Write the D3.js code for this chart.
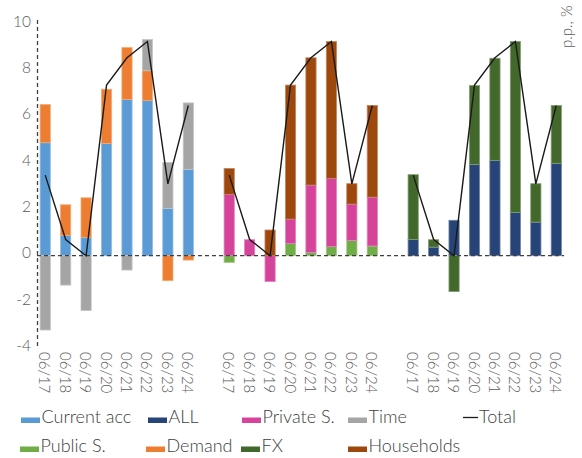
<!DOCTYPE html>
<html>
<head>
<meta charset="utf-8">
<script src="https://cdn.jsdelivr.net/npm/d3@7"></script>
<style>
  html, body { margin: 0; padding: 0; background: #fff; }
  svg { display: block; font-family: Lato, "Open Sans", sans-serif; font-weight: 300; }
</style>
</head>
<body>
<svg id="chart" width="582" height="458"></svg>
<script>
// Periods shown under each of the three decomposition panels
const periods = ["06/17", "06/18", "06/19", "06/20", "06/21", "06/22", "06/23", "06/24"];

// Panel 1: current account / demand / time
const currentAcc = [4.88, 0.88, 0.79, 4.85, 6.75, 6.70, 2.04, 3.73];
const demand     = [1.65, 1.32, 1.71, 2.34, 2.24, 1.29, -1.08, -0.19];
const time       = [-3.21, -1.27, -2.37, 0.00, -0.62, 1.35, 1.99, 2.87];

// Panel 2: public sector / private sector / households
const publicS    = [-0.29, 0.00, 0.00, 0.53, 0.14, 0.39, 0.66, 0.42];
const privateS   = [2.65, 0.69, -1.12, 1.05, 2.91, 2.95, 1.57, 2.11];
const households = [1.12, 0.00, 1.11, 5.79, 5.50, 5.91, 0.88, 3.96];

// Panel 3: all currencies / FX
const allCur     = [0.70, 0.37, 1.53, 3.94, 4.12, 1.87, 1.45, 3.99];
const fx         = [2.80, 0.32, -1.55, 3.41, 4.41, 7.38, 1.66, 2.50];

// Total change, repeated in each panel
const total      = [3.48, 0.70, 0.00, 7.37, 8.55, 9.25, 3.10, 6.49];

const yTicks = [-4, -2, 0, 2, 4, 6, 8, 10];

const colors = {
  "Current acc": "#5B9BD5",
  "ALL": "#264478",
  "Private S.": "#D5449A",
  "Time": "#A5A5A5",
  "Public S.": "#70AD47",
  "Demand": "#ED7D31",
  "FX": "#43682B",
  "Households": "#9E480E"
};

const panels = [
  { id: "a", series: [["Current acc", currentAcc], ["Demand", demand], ["Time", time]] },
  { id: "b", series: [["Public S.", publicS], ["Private S.", privateS], ["Households", households]] },
  { id: "c", series: [["ALL", allCur], ["FX", fx]] }
];

// Category slots: 8 per panel with an empty slot between panels
const slots = [];
panels.forEach((p, i) => {
  periods.forEach((_, j) => slots.push(p.id + j));
  if (i < panels.length - 1) slots.push("gap" + i);
});

const svg = d3.select("#chart");
const textColor = "#595959";

const x = d3.scaleBand().domain(slots).range([35, 566.5]).paddingInner(0.5).paddingOuter(0.25);
const y = d3.scaleLinear().domain([-4, 10]).range([348.3, 24.2]);

// Stacked bars, positive and negative parts stacked separately
panels.forEach(p => {
  const keys = p.series.map(s => s[0]);
  const rows = periods.map((per, j) => {
    const r = { slot: p.id + j };
    p.series.forEach(([k, vals]) => { r[k] = vals[j]; });
    return r;
  });
  const stacked = d3.stack().keys(keys).offset(d3.stackOffsetDiverging)(rows);
  stacked.forEach(layer => {
    const c = colors[layer.key];
    svg.append("g")
      .selectAll("rect")
      .data(layer.filter(d => d[1] !== d[0]))
      .join("rect")
      .attr("x", d => x(d.data.slot))
      .attr("width", x.bandwidth())
      .attr("y", d => y(Math.max(d[0], d[1])))
      .attr("height", d => Math.abs(y(d[0]) - y(d[1])))
      .attr("fill", c)
      .attr("stroke", d3.interpolateRgb(c, "#fff")(0.35))
      .attr("stroke-width", 0.8);
  });
});

// Zero line
svg.append("line")
  .attr("x1", 37).attr("x2", 564)
  .attr("y1", y(0)).attr("y2", y(0))
  .attr("stroke", "#404040").attr("stroke-width", 1.3)
  .attr("stroke-dasharray", "4,3");

// Vertical axis line
svg.append("line")
  .attr("x1", 37.5).attr("x2", 37.5)
  .attr("y1", 20).attr("y2", 346)
  .attr("stroke", "#404040").attr("stroke-width", 1.3)
  .attr("stroke-dasharray", "4,3");

// Y tick labels
svg.append("g")
  .selectAll("text")
  .data(yTicks)
  .join("text")
  .attr("x", 31)
  .attr("y", d => y(d) - 3.5)
  .attr("text-anchor", "end")
  .attr("dominant-baseline", "central")
  .attr("font-size", 15.5)
  .attr("fill", textColor)
  .text(d => d);

// Total line, one segment per panel
const line = d3.line()
  .x(d => x(d.slot) + x.bandwidth() / 2)
  .y(d => y(d.v));
panels.forEach(p => {
  svg.append("path")
    .datum(periods.map((_, j) => ({ slot: p.id + j, v: total[j] })))
    .attr("d", line)
    .attr("fill", "none")
    .attr("stroke", "#1a1a1a")
    .attr("stroke-width", 1.4);
});

// Rotated period labels
panels.forEach(p => {
  svg.append("g")
    .selectAll("text")
    .data(periods)
    .join("text")
    .attr("transform", (d, j) => `translate(${x(p.id + j) + x.bandwidth() / 2},352) rotate(90)`)
    .attr("dominant-baseline", "central")
    .attr("font-size", 15)
    .attr("fill", textColor)
    .text(d => d);
});

// Unit label
svg.append("text")
  .attr("transform", "translate(566,48) rotate(-90)")
  .attr("dominant-baseline", "central")
  .attr("font-size", 15)
  .attr("fill", textColor)
  .text("p.p., %");

// Legend
const legendItems = [
  { name: "Current acc", x: 21, row: 0 },
  { name: "ALL", x: 148, row: 0 },
  { name: "Private S.", x: 242, row: 0 },
  { name: "Time", x: 348, row: 0 },
  { name: "Total", x: 463, row: 0, line: true },
  { name: "Public S.", x: 20, row: 1 },
  { name: "Demand", x: 146, row: 1 },
  { name: "FX", x: 241, row: 1 },
  { name: "Households", x: 348, row: 1 }
];
const rowBase = [423, 452];
const lg = svg.append("g");
legendItems.forEach(it => {
  const base = rowBase[it.row];
  if (it.line) {
    lg.append("line")
      .attr("x1", it.x).attr("x2", it.x + 15)
      .attr("y1", base - 5.5).attr("y2", base - 5.5)
      .attr("stroke", "#1a1a1a").attr("stroke-width", 1.3);
  } else {
    lg.append("rect")
      .attr("x", it.x).attr("y", base - 5.5)
      .attr("width", 19).attr("height", 5.5)
      .attr("fill", colors[it.name]);
  }
  lg.append("text")
    .attr("x", it.x + (it.line ? 16 : 20.5))
    .attr("y", base)
    .attr("font-size", 18)
    .attr("fill", "#404040")
    .text(it.name);
});
</script>
</body>
</html>
